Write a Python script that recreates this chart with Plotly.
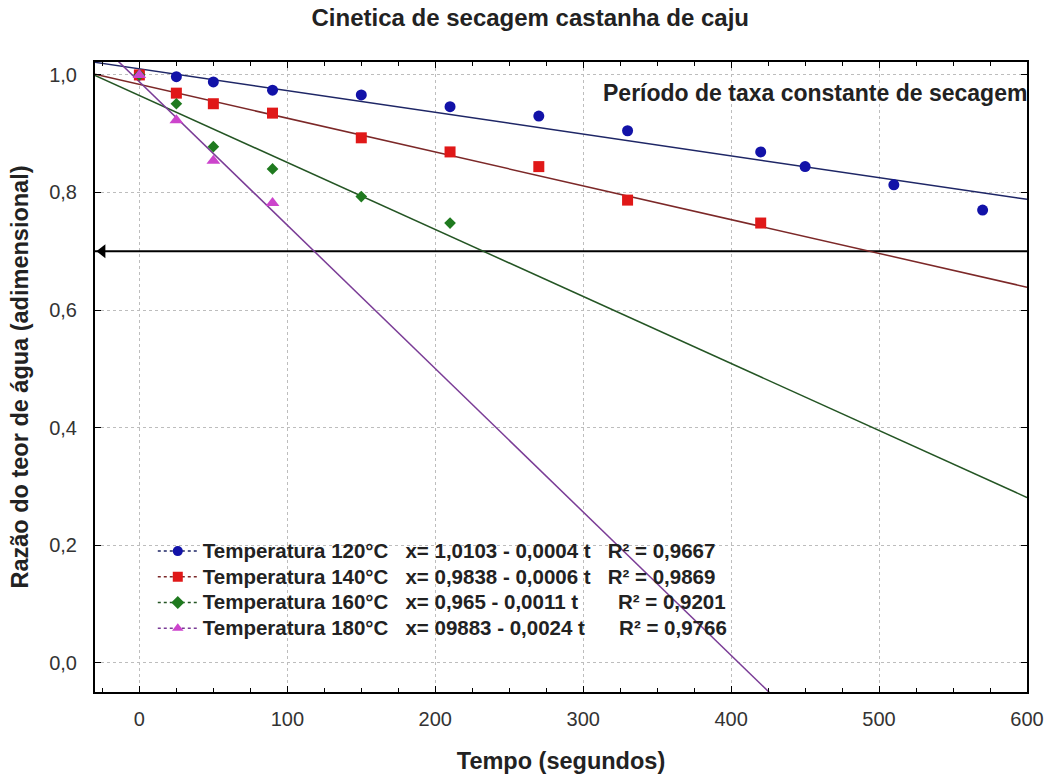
import plotly.graph_objects as go

# Drying kinetics of cashew nuts: moisture ratio vs time at four temperatures
temps = ["120°C", "140°C", "160°C", "180°C"]

t_120 = [0, 25, 50, 90, 150, 210, 270, 330, 420, 450, 510, 570]
mr_120 = [1.0, 0.997, 0.988, 0.974, 0.966, 0.946, 0.930, 0.905, 0.869, 0.844, 0.813, 0.770]

t_140 = [0, 25, 50, 90, 150, 210, 270, 330, 420]
mr_140 = [1.0, 0.969, 0.951, 0.935, 0.893, 0.869, 0.844, 0.787, 0.748]

t_160 = [0, 25, 50, 90, 150, 210]
mr_160 = [1.0, 0.951, 0.878, 0.840, 0.793, 0.748]

t_180 = [0, 25, 50, 90]
mr_180 = [1.0, 0.923, 0.854, 0.782]

# Linear fits x = a - b t
intercepts = [1.0103, 0.9838, 0.965, 0.9883]
slopes = [0.00037, 0.000575, 0.00114, 0.00244]

NB = "\u00a0"
equation_labels = [
    "Temperatura 120°C" + NB * 3 + "x= 1,0103 - 0,0004 t" + NB * 3 + "R² = 0,9667",
    "Temperatura 140°C" + NB * 3 + "x= 0,9838 - 0,0006 t" + NB * 3 + "R² = 0,9869",
    "Temperatura 160°C" + NB * 3 + "x= 0,965 - 0,0011 t" + NB * 7 + "R² = 0,9201",
    "Temperatura 180°C" + NB * 3 + "x= 09883 - 0,0024 t" + NB * 6 + "R² = 0,9766",
]

constant_rate_limit = 0.7
x_range = [-30, 600]
y_range = [-0.05, 1.022]
x_ticks = [0, 100, 200, 300, 400, 500, 600]
y_ticks = [0.0, 0.2, 0.4, 0.6, 0.8, 1.0]

point_colors = ["#1212a8", "#e01818", "#1f7a1f", "#cc44cc"]
line_colors = ["#1e2666", "#7c2828", "#245524", "#7a3c96"]
symbols = ["circle", "square", "diamond", "triangle-up"]
sizes = [11, 11, 9, 12]

series_t = [t_120, t_140, t_160, t_180]
series_mr = [mr_120, mr_140, mr_160, mr_180]

FONT = "Liberation Sans, Arial, sans-serif"
TEXT = "#222"

fig = go.Figure()

# Limit of the constant-rate period
fig.add_trace(go.Scatter(
    x=x_range, y=[constant_rate_limit, constant_rate_limit], mode="lines",
    line=dict(color="black", width=2), showlegend=False, hoverinfo="skip"))
fig.add_trace(go.Scatter(
    x=[x_range[0] + 5], y=[constant_rate_limit], mode="markers",
    marker=dict(symbol="triangle-left", size=12, color="black"),
    showlegend=False, hoverinfo="skip"))

# Fitted lines
for a, b, c in zip(intercepts, slopes, line_colors):
    fig.add_trace(go.Scatter(
        x=x_range, y=[a - b * x_range[0], a - b * x_range[1]], mode="lines",
        line=dict(color=c, width=1.5), showlegend=False, hoverinfo="skip"))

# Measured points
for t, mr, c, s, sz in zip(series_t, series_mr, point_colors, symbols, sizes):
    fig.add_trace(go.Scatter(
        x=t, y=mr, mode="markers", marker=dict(color=c, symbol=s, size=sz),
        showlegend=False))

# Legend entries (marker + line key); text drawn larger than the row pitch font
for lab, c, lc, s in zip(equation_labels, point_colors, line_colors, symbols):
    fig.add_trace(go.Scatter(
        x=[None], y=[None], mode="lines+markers",
        name="<span style='font-size:20.5px'>" + lab + "</span>",
        marker=dict(color=c, symbol=s, size=10),
        line=dict(color=lc, width=1.5, dash="dot")))

fig.add_annotation(
    x=312, y=0.969, xref="x", yref="y", xanchor="left", yanchor="middle",
    text="Período de taxa constante de secagem", showarrow=False,
    font=dict(family=FONT, size=23, color=TEXT, weight="bold"))

axis_common = dict(
    showline=True, linecolor="black", linewidth=2, mirror="allticks",
    ticks="inside", ticklen=6, tickcolor="black",
    showgrid=True, gridcolor="#bdbdbd", griddash="dot", gridwidth=1,
    zeroline=False, automargin=False,
    tickfont=dict(family=FONT, size=20, color="#333"),
)

fig.update_xaxes(
    range=x_range, tickvals=x_ticks, ticklabelstandoff=8, **axis_common,
    minor=dict(ticks="inside", ticklen=4, dtick=25, tickcolor="black", showgrid=False),
    title=dict(text="Tempo (segundos)", font=dict(family=FONT, size=23.5, color=TEXT, weight="bold"), standoff=24))
fig.update_yaxes(
    range=y_range, tickvals=y_ticks, tickformat=".1f", ticklabelstandoff=12, **axis_common,
    title=dict(text="Razão do teor de água (adimensional)", font=dict(family=FONT, size=23.5, color=TEXT, weight="bold"), standoff=14))

fig.update_layout(
    width=1050, height=774,
    margin=dict(l=95, r=23, t=62, b=82),
    paper_bgcolor="white", plot_bgcolor="white",
    separators=", ",
    title=dict(text="Cinetica de secagem castanha de caju", x=0.505, xanchor="center",
               y=0.977, yanchor="middle",
               font=dict(family=FONT, size=24, color=TEXT, weight="bold")),
    legend=dict(x=0.062, y=0.252, xanchor="left", yanchor="top",
                bgcolor="rgba(0,0,0,0)", borderwidth=0,
                font=dict(family=FONT, size=17.5, color=TEXT, weight="bold"),
                itemwidth=40, tracegroupgap=0),
    showlegend=True,
)

fig.write_html("out.html")
